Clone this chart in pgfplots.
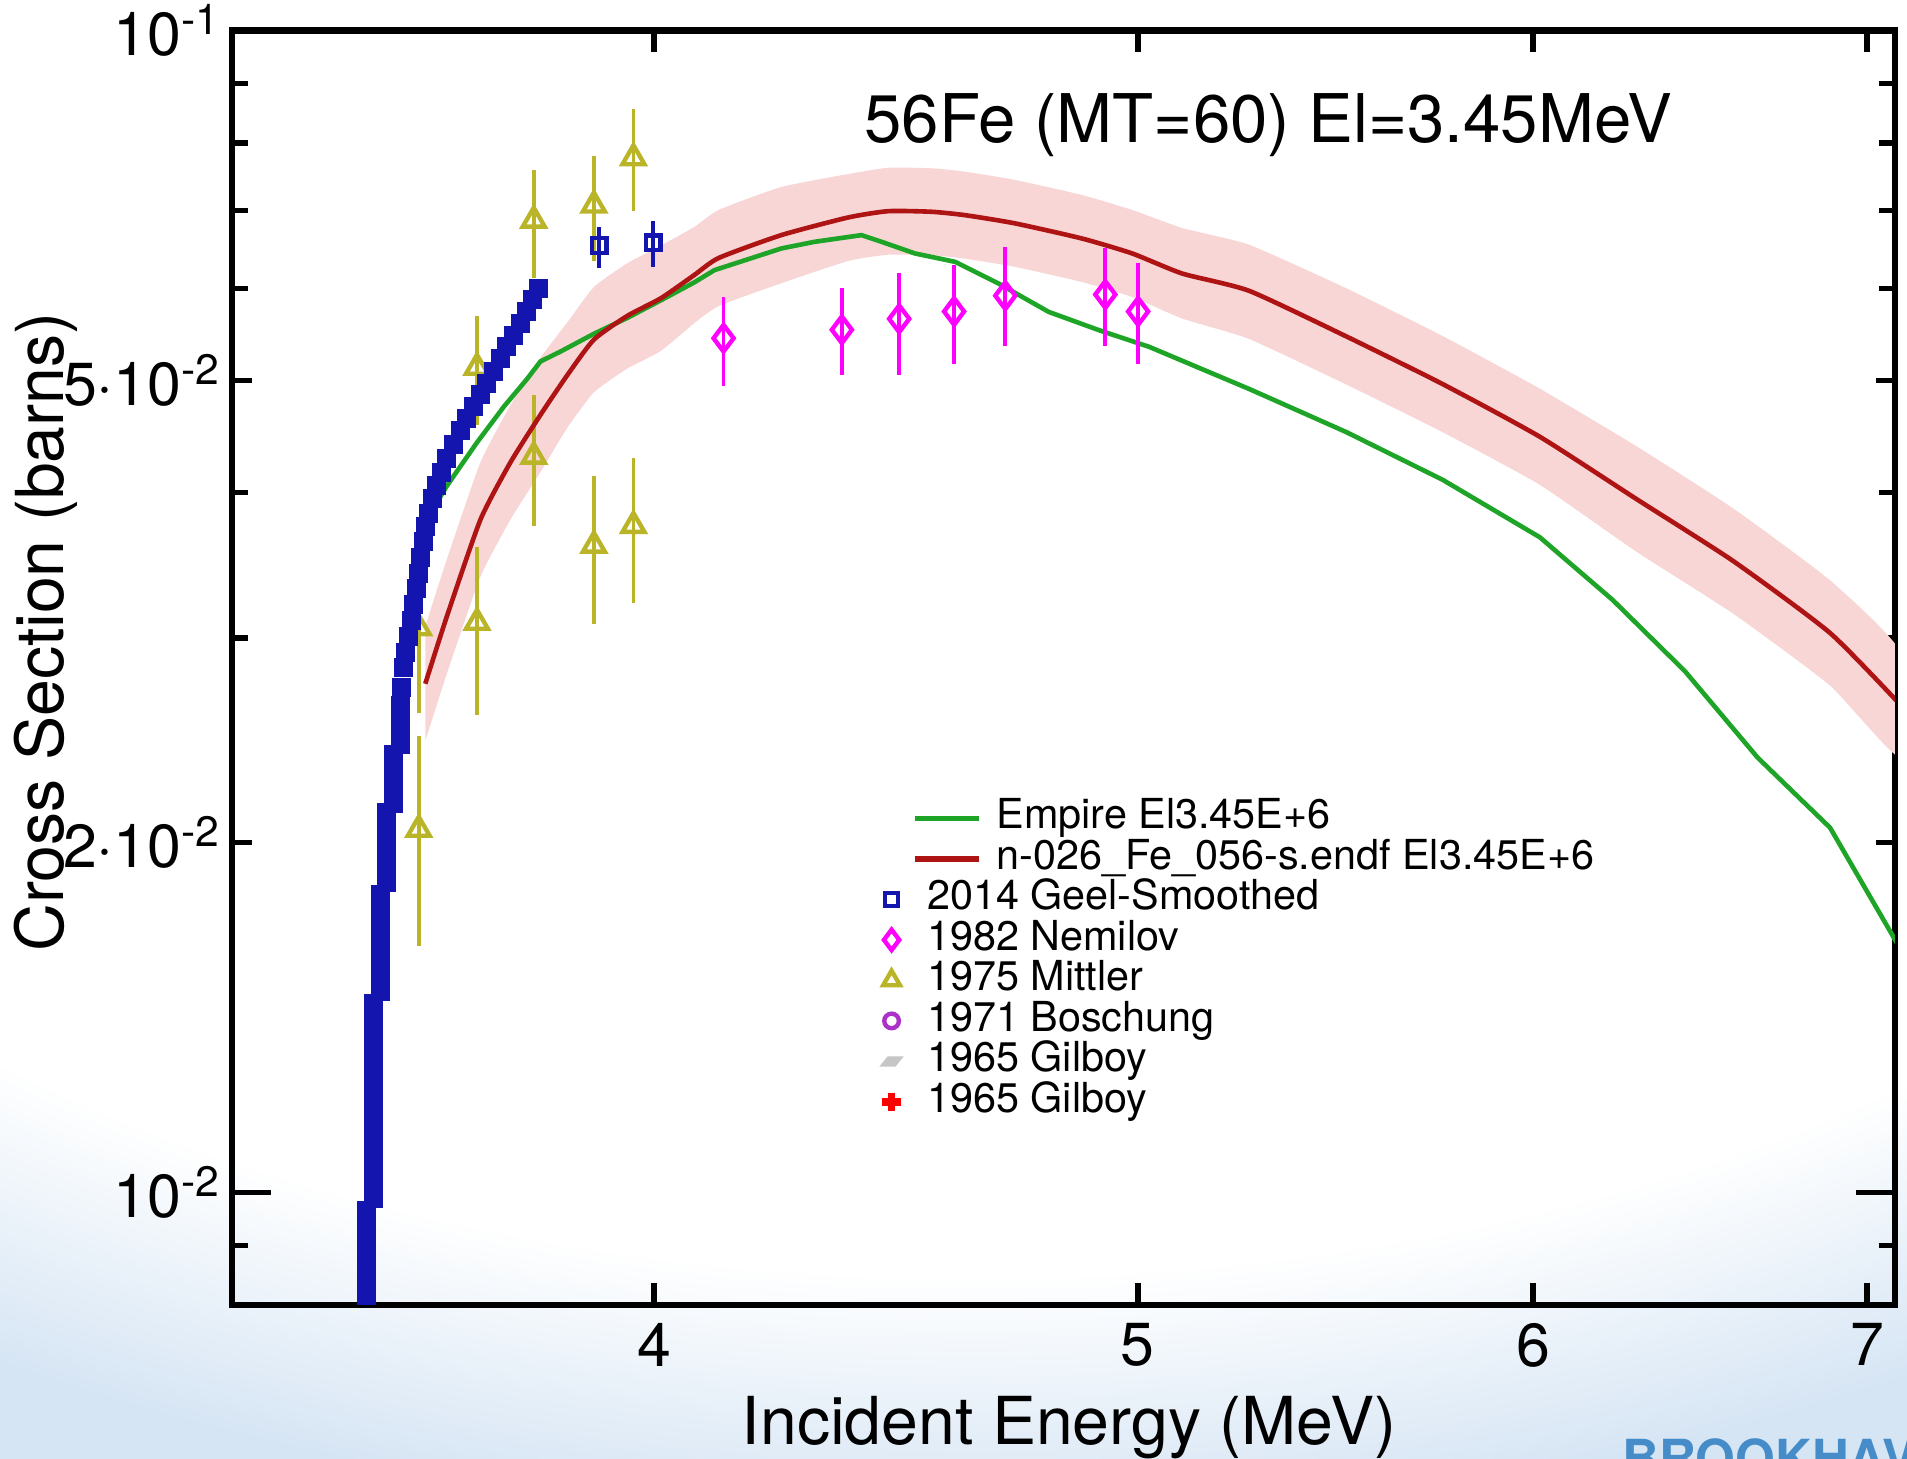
\documentclass[border=0pt]{standalone}
\usepackage{fontspec}
\setmainfont{TeX Gyre Heros}
\usepackage{pgfplots}
\pgfplotsset{compat=1.18}
\usepackage{pgfplotstable}

\definecolor{empcol}{RGB}{30,165,40}
\definecolor{endfcol}{RGB}{175,20,20}
\definecolor{bandcol}{RGB}{248,214,214}
\definecolor{geelcol}{RGB}{20,20,175}
\definecolor{nemcol}{RGB}{255,0,255}
\definecolor{mitcol}{RGB}{185,180,40}
\definecolor{boscol}{RGB}{170,50,200}
\definecolor{logocol}{RGB}{70,140,200}
\definecolor{bgblue}{RGB}{214,229,244}

\pgfdeclareradialshading{bgrad}{\pgfpointorigin}{%
  color(0bp)=(white); color(11.0bp)=(white); color(14.0bp)=(bgblue); color(50bp)=(bgblue)}

\pgfplotstableread{
x y
3.5995 0.03779
3.6359 0.04055
3.6865 0.04420
3.7324 0.04743
3.7728 0.05011
3.7962 0.05190
3.8313 0.05292
3.8910 0.05482
3.9515 0.05657
4.0128 0.05859
4.0752 0.06071
4.1129 0.06219
4.2417 0.06492
4.3075 0.06578
4.4016 0.06666
4.4426 0.06578
4.5116 0.06428
4.5959 0.06322
4.6888 0.06056
4.7985 0.05725
4.9107 0.05522
5.0255 0.05343
5.2634 0.04914
5.5037 0.04513
5.7554 0.04104
6.0186 0.03663
6.2234 0.03237
6.4356 0.02809
6.6550 0.02367
6.8814 0.02060
7.1084 0.01620
}\empire

\pgfplotstableread{
x y
3.5995 0.02740
3.6359 0.03131
3.6924 0.03794
3.7438 0.04250
3.7962 0.04669
3.8432 0.05050
3.8910 0.05419
3.9515 0.05680
4.0128 0.05883
4.0749 0.06159
4.1210 0.06371
4.2417 0.06666
4.3747 0.06903
4.4564 0.06990
4.5465 0.06982
4.6171 0.06935
4.7251 0.06822
4.8730 0.06621
4.9869 0.06428
5.1035 0.06177
5.2634 0.05969
5.5037 0.05455
5.7554 0.04961
6.0186 0.04470
6.2934 0.03951
6.5813 0.03493
6.8814 0.03030
7.1084 0.02628
}\endf

% uncertainty band of the evaluation: upper edge forward, lower edge back
\pgfplotstableread{
x y
3.5995 0.03069
3.6359 0.03507
3.6924 0.04249
3.7438 0.04760
3.7962 0.05229
3.8432 0.05606
3.8910 0.06015
3.9515 0.06305
4.0128 0.06530
4.0749 0.06775
4.1210 0.07008
4.2417 0.07333
4.3747 0.07524
4.4564 0.07619
4.5465 0.07610
4.6171 0.07559
4.7251 0.07436
4.8730 0.07217
4.9869 0.07007
5.1035 0.06760
5.2634 0.06540
5.5037 0.06001
5.7554 0.05457
6.0186 0.04917
6.2934 0.04386
6.5813 0.03877
6.8814 0.03363
7.1084 0.02917
7.1084 0.02368
6.8814 0.02730
6.5813 0.03147
6.2934 0.03559
6.0186 0.04064
5.7554 0.04510
5.5037 0.04959
5.2634 0.05426
5.1035 0.05650
4.9869 0.05897
4.8730 0.06074
4.7251 0.06259
4.6171 0.06362
4.5465 0.06406
4.4564 0.06413
4.3747 0.06333
4.2417 0.06060
4.1210 0.05792
4.0749 0.05599
4.0128 0.05300
3.9515 0.05117
3.8910 0.04882
3.8432 0.04550
3.7962 0.04169
3.7438 0.03795
3.6924 0.03388
3.6359 0.02796
3.5995 0.02446
}\bandpoly

\pgfplotstableread{
x y
3.5038 0.00795
3.5038 0.00815
3.5038 0.00835
3.5038 0.00855
3.5038 0.00876
3.5038 0.00897
3.5038 0.00919
3.5038 0.00942
3.5038 0.00964
3.5146 0.00988
3.5146 0.01012
3.5146 0.01037
3.5146 0.01062
3.5146 0.01088
3.5146 0.01115
3.5146 0.01142
3.5146 0.01170
3.5146 0.01198
3.5146 0.01227
3.5146 0.01257
3.5146 0.01288
3.5146 0.01319
3.5146 0.01352
3.5146 0.01385
3.5146 0.01418
3.5146 0.01453
3.5253 0.01488
3.5253 0.01525
3.5253 0.01562
3.5253 0.01600
3.5253 0.01639
3.5253 0.01679
3.5253 0.01720
3.5253 0.01762
3.5253 0.01805
3.5364 0.01849
3.5364 0.01894
3.5364 0.01940
3.5364 0.01987
3.5364 0.02036
3.5364 0.02086
3.5364 0.02121
3.5472 0.02162
3.5472 0.02215
3.5472 0.02269
3.5472 0.02324
3.5472 0.02381
3.5582 0.02427
3.5582 0.02482
3.5582 0.02535
3.5582 0.02579
3.5582 0.02623
3.5608 0.02720
3.5636 0.02827
3.5676 0.02917
3.5718 0.03010
3.5760 0.03106
3.5803 0.03205
3.5845 0.03307
3.5885 0.03412
3.5926 0.03521
3.5968 0.03633
3.6009 0.03739
3.6051 0.03840
3.6120 0.03953
3.6190 0.04059
3.6273 0.04168
3.6359 0.04280
3.6469 0.04406
3.6582 0.04524
3.6696 0.04635
3.6809 0.04748
3.6924 0.04863
3.7038 0.04970
3.7150 0.05091
3.7266 0.05215
3.7381 0.05343
3.7497 0.05460
3.7611 0.05593
3.7728 0.05730
3.7830 0.05869
3.7932 0.05998
}\geelband

\pgfplotstableread{
x y ep em
3.9000 0.06529 0.00246 0.00289
3.9991 0.06566 0.00289 0.00302
}\geelpts

\pgfplotstableread{
x y ep em
3.5885 0.03061 0.00528 0.00475
3.5885 0.02053 0.00417 0.00425
3.6865 0.05129 0.00550 0.00550
3.6865 0.03094 0.00496 0.00520
3.7844 0.06865 0.00725 0.00747
3.7844 0.04300 0.00556 0.00551
3.8910 0.07074 0.00727 0.00735
3.8910 0.03605 0.00531 0.00523
3.9624 0.07769 0.00782 0.00779
3.9624 0.03749 0.00534 0.00531
}\mittler

\pgfplotstableread{
x y ep em
4.1303 0.05434 0.00463 0.00488
4.3619 0.05526 0.00472 0.00472
4.4788 0.05647 0.00542 0.00593
4.5936 0.05730 0.00549 0.00565
4.7034 0.05912 0.00598 0.00557
4.9254 0.05926 0.00569 0.00571
5.0007 0.05730 0.00580 0.00565
}\nemilov

\pgfplotsset{
  legline/.style={legend image code/.code={%
    \path[draw=none,fill=none] (-2pt,-2pt) rectangle (2pt,2pt);
    \draw[overlay,##1] (4.75pt,0pt) -- (18pt,0pt);}},
  legmark/.style={legend image code/.code={%
    \path[draw=none,fill=none] (-2pt,-2pt) rectangle (2pt,2pt);
    \draw[##1] plot coordinates {(0pt,0pt)};}},
}

\begin{document}
\begin{tikzpicture}
% slide background (light blue swoosh)
\shade[shading=bgrad] (-552.75pt,-231.75pt) rectangle (857.25pt,618.25pt);
\begin{axis}[
  scale only axis, width=341.75pt, height=262pt,
  xmode=log, ymode=log,
  xmin=3.293, xmax=7.09, ymin=0.008, ymax=0.1,
  axis line style={line width=1.3pt},
  every tick/.style={black, line width=1.1pt},
  tick align=inside, tick pos=both,
  xticklabel pos=lower, yticklabel pos=left,
  xtick=\empty,
  extra x ticks={4,5,6,7}, extra x tick labels={4,5,6,7},
  extra x tick style={major tick length=4.5pt},
  ytick={0.01,0.1}, yticklabels={10\textsuperscript{-2},10\textsuperscript{-1}},
  extra y ticks={0.02,0.05},
  extra y tick labels={2·10\textsuperscript{-2},5·10\textsuperscript{-2}},
  extra y tick style={major tick length=4pt},
  minor ytick={0.009,0.03,0.04,0.06,0.07,0.08,0.09},
  major tick length=8pt, minor tick length=3.2pt,
  tick label style={font=\fontsize{12.5}{13}\selectfont},
  yticklabel style={inner xsep=2pt},
  xticklabel style={inner ysep=3.5pt},
  xlabel={Incident Energy (MeV)}, ylabel={Cross Section (barns)},
  label style={font=\fontsize{13.6}{14}\selectfont},
  xlabel style={at={(axis description cs:0.5033,-0.1097)}, anchor=base},
  ylabel style={at={(axis description cs:-0.112,0.528)}, anchor=center},
  legend style={at={(axis description cs:0.3899,0.3985)}, anchor=north west,
    draw=none, fill=none, inner sep=0pt, row sep=0pt, column sep=5.25pt,
    font=\fontsize{8.5}{9}\selectfont,
    nodes={inner sep=0pt, text height=6.3pt, text depth=2.03pt}},
  legend cell align=left,
]
% uncertainty band of the evaluation
\addplot[fill=bandcol, draw=none, forget plot, smooth, tension=0.3] table[x=x,y=y]{\bandpoly};

% 1975 Mittler
\addplot[only marks, mark=triangle, mark size=2.6pt, color=mitcol, line width=0.9pt, forget plot,
  error bars/.cd, y dir=both, y explicit, error mark=none,
  error bar style={line width=0.8pt}]
  table[x=x,y=y,y error plus=ep,y error minus=em]{\mittler};

% 2014 Geel smoothed, dense part
\addplot[only marks, mark=square*, mark size=1.75pt, color=geelcol, forget plot]
  table[x=x,y=y]{\geelband};

% Empire
\addplot[color=empcol, line width=0.95pt, forget plot] table[x=x,y=y]{\empire};
% ENDF
\addplot[color=endfcol, line width=0.95pt, forget plot, smooth, tension=0.35] table[x=x,y=y]{\endf};

% 1982 Nemilov
\addplot[only marks, mark=diamond, mark size=2.75pt, color=nemcol, line width=0.9pt, forget plot,
  error bars/.cd, y dir=both, y explicit, error mark=none,
  error bar style={line width=0.8pt}]
  table[x=x,y=y,y error plus=ep,y error minus=em]{\nemilov};

% 2014 Geel isolated points
\addplot[only marks, mark=square, mark size=1.5pt, color=geelcol, line width=0.9pt, forget plot,
  error bars/.cd, y dir=both, y explicit, error mark=none,
  error bar style={line width=0.8pt}]
  table[x=x,y=y,y error plus=ep,y error minus=em]{\geelpts};

\node[anchor=base, font=\fontsize{13.8}{14}\selectfont] at (rel axis cs:0.6233,0.9122)
  {56Fe (MT=60) El=3.45MeV};

\addlegendimage{legline, color=empcol, line width=1.1pt}
\addlegendentry{\hspace*{14.25pt}Empire El3.45E+6}
\addlegendimage{legline, color=endfcol, line width=1.1pt}
\addlegendentry{\hspace*{14.25pt}n-026\_Fe\_056-s.endf El3.45E+6}
\addlegendimage{only marks, legmark, mark=square, mark size=1.3pt, color=geelcol, line width=0.9pt}
\addlegendentry{2014 Geel-Smoothed}
\addlegendimage{only marks, legmark, mark=diamond, mark size=2.1pt, color=nemcol, line width=0.9pt}
\addlegendentry{1982 Nemilov}
\addlegendimage{only marks, legmark, mark=triangle, mark size=2pt, color=mitcol, line width=0.9pt}
\addlegendentry{1975 Mittler}
\addlegendimage{only marks, legmark, mark=o, mark size=1.5pt, color=boscol, line width=0.9pt}
\addlegendentry{1971 Boschung}
\addlegendimage{only marks, legmark, mark=square*, mark size=1.4pt, color=gray!45, mark options={xslant=0.8, yscale=0.6}}
\addlegendentry{1965 Gilboy}
\addlegendimage{only marks, legmark, mark=+, mark size=1.9pt, color=red, line width=1.5pt}
\addlegendentry{1965 Gilboy}
\end{axis}
\node[anchor=north west, inner sep=0pt, text=logocol, font=\fontsize{10.5}{10.5}\selectfont\bfseries]
  at (285.5pt,-27.25pt) {BROOKHAVEN};
\pgfresetboundingbox
\useasboundingbox (-47.75pt,-31.5pt) rectangle (344.25pt,268.25pt);
\end{tikzpicture}
\end{document}
